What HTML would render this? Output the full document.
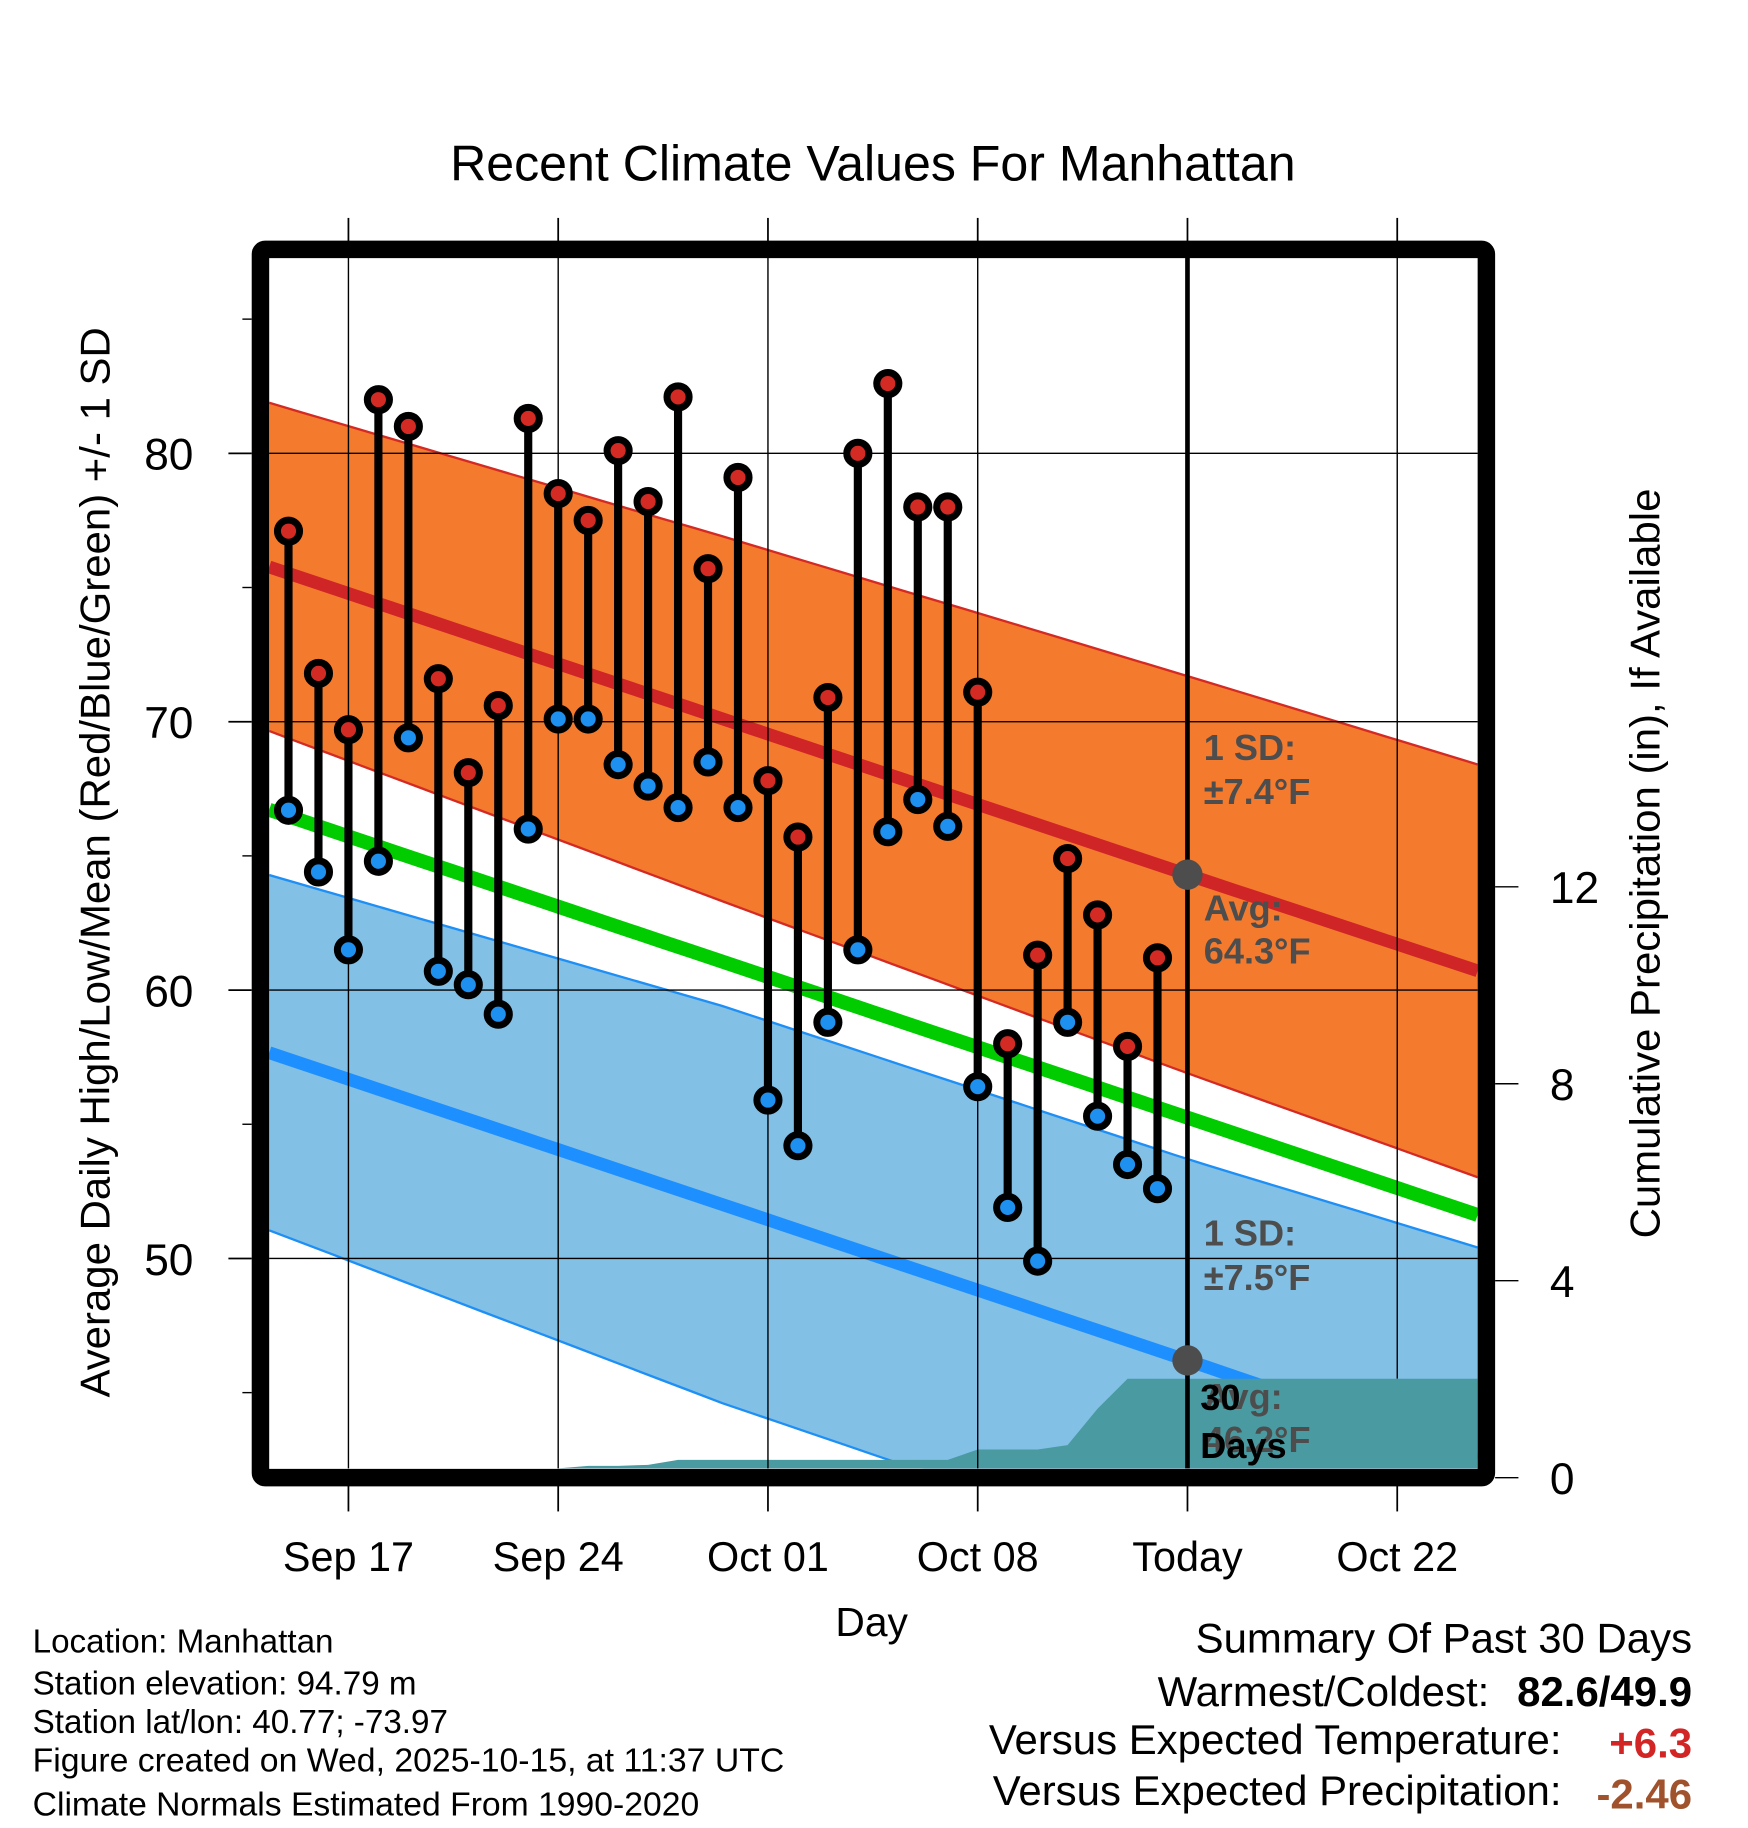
<!DOCTYPE html>
<html><head><meta charset="utf-8">
<style>
html,body{margin:0;padding:0;background:#fff;}
svg{display:block;font-family:"Liberation Sans",Arial,sans-serif;}
</style></head>
<body>
<svg id="chart" width="1748" height="1828" viewBox="0 0 1500 1568.65" xmlns="http://www.w3.org/2000/svg">
  <g id="g-bands"></g>
  <g id="g-precip"></g>
  <g id="g-grid"></g>
  <g id="g-data"></g>
  <g id="g-ann"></g>
  <g id="g-axes"></g>

  <text x="749" y="155" font-size="43" text-anchor="middle">Recent Climate Values For Manhattan</text>
  <text transform="translate(94,740) rotate(-90)" font-size="36" text-anchor="middle">Average Daily High/Low/Mean (Red/Blue/Green) +/- 1 SD</text>
  <text transform="translate(1424,741) rotate(-90)" font-size="36" text-anchor="middle">Cumulative Precipitation (in), If Available</text>
  <text x="748" y="1404" font-size="35" text-anchor="middle">Day</text>

  <g font-size="28.5">
    <text x="28" y="1418">Location: Manhattan</text>
    <text x="28" y="1454">Station elevation: 94.79 m</text>
    <text x="28" y="1487">Station lat/lon: 40.77; -73.97</text>
    <text x="28" y="1520" textLength="645" lengthAdjust="spacingAndGlyphs">Figure created on Wed, 2025-10-15, at 11:37 UTC</text>
    <text x="28" y="1558" textLength="572" lengthAdjust="spacingAndGlyphs">Climate Normals Estimated From 1990-2020</text>
  </g>
  <g font-size="36" text-anchor="end">
    <text x="1452" y="1418">Summary Of Past 30 Days</text>
    <text x="1278" y="1464">Warmest/Coldest:</text>
    <text x="1452" y="1464" font-weight="bold">82.6/49.9</text>
    <text x="1340" y="1505">Versus Expected Temperature:</text>
    <text x="1452" y="1508" font-weight="bold" fill="#D22626">+6.3</text>
    <text x="1340" y="1549">Versus Expected Precipitation:</text>
    <text x="1452" y="1552" font-weight="bold" fill="#A0522D">-2.46</text>
  </g>
</svg>
<script>
// ---- data ----
const days = ["Sep 15","Sep 16","Sep 17","Sep 18","Sep 19","Sep 20","Sep 21","Sep 22","Sep 23","Sep 24","Sep 25","Sep 26","Sep 27","Sep 28","Sep 29","Sep 30","Oct 01","Oct 02","Oct 03","Oct 04","Oct 05","Oct 06","Oct 07","Oct 08","Oct 09","Oct 10","Oct 11","Oct 12","Oct 13","Oct 14"];
const highs = [77.1,71.8,69.7,82.0,81.0,71.6,68.1,70.6,81.3,78.5,77.5,80.1,78.2,82.1,75.7,79.1,67.8,65.7,70.9,80.0,82.6,78.0,78.0,71.1,58.0,61.3,64.9,62.8,57.9,61.2];
const lows = [66.7,64.4,61.5,64.8,69.4,60.7,60.2,59.1,66.0,70.1,70.1,68.4,67.6,66.8,68.5,66.8,55.9,54.2,58.8,61.5,65.9,67.1,66.1,56.4,51.9,49.9,58.8,55.3,53.5,52.6];
const precipCum = [0,0,0,0,0,0,0,0,0,0.19,0.24,0.24,0.26,0.36,0.36,0.36,0.36,0.36,0.36,0.36,0.36,0.36,0.36,0.57,0.57,0.57,0.66,1.4,2.01,2.01];
const normDays = [-3, 12.5, 28, 38];          // day offsets from Sep 17
const normHigh = [75.9, 70.1, 64.3, 60.6];
const normHighSd = [6.1, 6.8, 7.4, 7.7];
const normLow = [57.8, 52.0, 46.2, 42.4];
const normLowSd = [6.6, 7.4, 7.5, 7.9];
const xTickLabels = ["Sep 17","Sep 24","Oct 01","Oct 08","Today","Oct 22"];
const xTickDays = [0,7,14,21,28,35];
const yTicks = [50,60,70,80];
const yMinorTicks = [45,55,65,75,85];
const y2Ticks = [0,4,8,12];
const firstDay = -2;   // Sep 15 relative to Sep 17
const todayDay = 28;

// ---- geometry (viewBox units) ----
const L=231, R=1268, T=221, B=1260;
const X0=299, DX=180/7;
const xs = d => X0 + d*DX;
const ys = v => 389 + (80-v)*23.03;
const yp = v => 1268 - v*42.25;
const dMin=(L-X0)/DX, dMax=(R-X0)/DX;
const NS="http://www.w3.org/2000/svg";
function mk(tag, parent){const e=document.createElementNS(NS,tag);parent.appendChild(e);return e;}
function interp(arr,d){
  for(let i=0;i<normDays.length-1;i++){
    if(d<=normDays[i+1]||i===normDays.length-2){
      const t=(d-normDays[i])/(normDays[i+1]-normDays[i]);
      return arr[i]+t*(arr[i+1]-arr[i]);
    }
  }
}
const samp=[];for(let i=0;i<=40;i++)samp.push(dMin+(dMax-dMin)*i/40);
const hiU=d=>interp(normHigh,d)+interp(normHighSd,d), hiL=d=>interp(normHigh,d)-interp(normHighSd,d);
const loU=d=>interp(normLow,d)+interp(normLowSd,d), loL=d=>interp(normLow,d)-interp(normLowSd,d);
const clampY=y=>Math.min(B,Math.max(T,y));
function bandPath(fu,fl){
  let p=samp.map((d,i)=>(i?'L':'M')+xs(d).toFixed(1)+','+clampY(ys(fu(d))).toFixed(1)).join('');
  p+=samp.slice().reverse().map(d=>'L'+xs(d).toFixed(1)+','+clampY(ys(fl(d))).toFixed(1)).join('')+'Z';
  return p;
}
function linePath(f){return samp.map((d,i)=>(i?'L':'M')+xs(d).toFixed(1)+','+clampY(ys(f(d))).toFixed(1)).join('');}

const gB=document.getElementById('g-bands');
let e;
e=mk('path',gB);e.setAttribute('d',bandPath(loU,loL));e.setAttribute('fill','#82C0E6');


e=mk('path',gB);e.setAttribute('d',bandPath(hiU,hiL));e.setAttribute('fill','#F47A2E');


[[hiU,'#D42A24',2,'high-sd-upper-edge'],[hiL,'#D42A24',2,'high-sd-lower-edge'],[loU,'#1E8FF5',2,'low-sd-upper-edge'],[loL,'#1E8FF5',2,'low-sd-lower-edge'],
 [d=>interp(normHigh,d),'#CF2527',11,'avg-high-line'],[d=>interp(normLow,d),'#1E8FFF',11,'avg-low-line'],
 [d=>(interp(normHigh,d)+interp(normLow,d))/2,'#00CC00',12,'avg-mean-line']].forEach(a=>{
  const p=mk('path',gB);p.setAttribute('d',linePath(a[0]));p.setAttribute('fill','none');p.setAttribute('stroke',a[1]);p.setAttribute('stroke-width',a[2]);
  
  
});
const cp=mk('clipPath',document.getElementById('chart'));cp.setAttribute('id','plotclip');
const cr=mk('rect',cp);cr.setAttribute('x',L);cr.setAttribute('y',T);cr.setAttribute('width',R-L);cr.setAttribute('height',B-T);
gB.setAttribute('clip-path','url(#plotclip)');

// precip
const gP=document.getElementById('g-precip');
let pp='M'+L+','+(B+5);
pp+='L'+L+','+yp(0).toFixed(1);
precipCum.forEach((v,i)=>{pp+='L'+xs(firstDay+i).toFixed(1)+','+yp(v).toFixed(1);});
pp+='L'+R+','+yp(precipCum[precipCum.length-1]).toFixed(1)+'L'+R+','+(B+5)+'Z';
e=mk('path',gP);e.setAttribute('d',pp);e.setAttribute('fill','#4A9AA2');


gP.setAttribute('clip-path','url(#plotclip)');

// grid
const gG=document.getElementById('g-grid');
xTickDays.forEach((d,i)=>{
  const x=xs(d);
  if(d!==todayDay){
    const l=mk('line',gG);l.setAttribute('x1',x);l.setAttribute('x2',x);l.setAttribute('y1',T);l.setAttribute('y2',d>=26?1183:B);l.setAttribute('stroke','#000');l.setAttribute('stroke-width',1.2);
    
    
  }
});
yTicks.forEach(v=>{
  const l=mk('line',gG);l.setAttribute('x1',L);l.setAttribute('x2',R);l.setAttribute('y1',ys(v));l.setAttribute('y2',ys(v));l.setAttribute('stroke','#000');l.setAttribute('stroke-width',1.2);
  
  
});

// data
const gD=document.getElementById('g-data');
days.forEach((lab,i)=>{
  const x=xs(firstDay+i), yh=ys(highs[i]), yl=ys(lows[i]);
  const s=mk('line',gD);s.setAttribute('x1',x);s.setAttribute('x2',x);s.setAttribute('y1',yh);s.setAttribute('y2',yl);s.setAttribute('stroke','#000');s.setAttribute('stroke-width',7);
  
  
  [[yh,'#D42A24','high-marker'],[yl,'#1E90F0','low-marker']].forEach(m=>{
    const c=mk('circle',gD);c.setAttribute('cx',x);c.setAttribute('cy',m[0]);c.setAttribute('r',9.5);c.setAttribute('fill',m[1]);c.setAttribute('stroke','#000');c.setAttribute('stroke-width',6);
    
    
  });
});

// annotations
const gA=document.getElementById('g-ann');
const tx=xs(todayDay);
e=mk('line',gA);e.setAttribute('x1',tx);e.setAttribute('x2',tx);e.setAttribute('y1',T);e.setAttribute('y2',B);e.setAttribute('stroke','#000');e.setAttribute('stroke-width',4);


[[interp(normHigh,todayDay),'today-avg-high-dot'],[interp(normLow,todayDay),'today-avg-low-dot']].forEach(a=>{
  const c=mk('circle',gA);c.setAttribute('cx',tx);c.setAttribute('cy',ys(a[0]));c.setAttribute('r',13);c.setAttribute('fill','#4D4D4D');
  
  
});
function txt(parent,x,y,s,size,fill,weight,anchor){const t=mk('text',parent);t.setAttribute('x',x);t.setAttribute('y',y);t.setAttribute('font-size',size);if(fill)t.setAttribute('fill',fill);if(weight)t.setAttribute('font-weight',weight);if(anchor)t.setAttribute('text-anchor',anchor);t.textContent=s;return t;}
const ax=tx+14;
const hiSdT=interp(normHighSd,todayDay).toFixed(1), loSdT=interp(normLowSd,todayDay).toFixed(1);
e=txt(gA,ax,652,'1 SD:',31,'#4D4D4D','bold');


e=txt(gA,ax,690,'±'+hiSdT+'°F',31,'#4D4D4D','bold');


e=txt(gA,ax,790,'Avg:',31,'#4D4D4D','bold');


e=txt(gA,ax,827,interp(normHigh,todayDay).toFixed(1)+'°F',31,'#4D4D4D','bold');


e=txt(gA,ax,1069,'1 SD:',31,'#4D4D4D','bold');


e=txt(gA,ax,1107,'±'+loSdT+'°F',31,'#4D4D4D','bold');


e=txt(gA,ax,1209,'Avg:',31,'#4D4D4D','bold');


e=txt(gA,ax,1246,interp(normLow,todayDay).toFixed(1)+'°F',31,'#4D4D4D','bold');


e=txt(gA,tx+11,1210,'30',31,'#000','bold');


e=txt(gA,tx+11,1251,'Days',31,'#000','bold');



// axes
const gX=document.getElementById('g-axes');
e=mk('rect',gX);e.setAttribute('x',223.5);e.setAttribute('y',214);e.setAttribute('width',1052);e.setAttribute('height',1054);e.setAttribute('rx',4);
e.setAttribute('fill','none');e.setAttribute('stroke','#000');e.setAttribute('stroke-width',15);


xTickDays.forEach((d,i)=>{
  const x=xs(d);
  [[187,207],[1275,1297]].forEach(r=>{
    const l=mk('line',gX);l.setAttribute('x1',x);l.setAttribute('x2',x);l.setAttribute('y1',r[0]);l.setAttribute('y2',r[1]);l.setAttribute('stroke','#000');l.setAttribute('stroke-width',1.5);
    
    
  });
  const t=txt(gX,x,1348,xTickLabels[i],35.5,'#000',null,'middle');
  
  
});
yTicks.forEach(v=>{
  const l=mk('line',gX);l.setAttribute('x1',196);l.setAttribute('x2',216);l.setAttribute('y1',ys(v));l.setAttribute('y2',ys(v));l.setAttribute('stroke','#000');l.setAttribute('stroke-width',1.5);
  
  
  const t=txt(gX,166,ys(v)+14,String(v),38,'#000',null,'end');
  
  
});
yMinorTicks.forEach(v=>{
  const l=mk('line',gX);l.setAttribute('x1',208);l.setAttribute('x2',216);l.setAttribute('y1',ys(v));l.setAttribute('y2',ys(v));l.setAttribute('stroke','#000');l.setAttribute('stroke-width',1.2);
  
  
});
y2Ticks.forEach(v=>{
  const l=mk('line',gX);l.setAttribute('x1',1283);l.setAttribute('x2',1303);l.setAttribute('y1',yp(v));l.setAttribute('y2',yp(v));l.setAttribute('stroke','#000');l.setAttribute('stroke-width',1.2);
  
  
  const t=txt(gX,1330,yp(v)+14,String(v),38,'#000',null,'start');
  
  
});
</script>
</body></html>
